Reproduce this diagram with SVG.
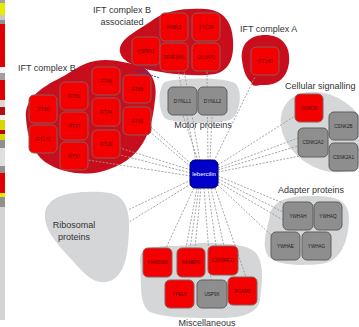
<svg xmlns="http://www.w3.org/2000/svg" width="359" height="327" viewBox="0 0 359 327">
<style>
.bg{fill:#ffffff}
.rblob{fill:#c80d1c}
.gblob{fill:#d5d6d8}
.rn{fill:#f40000;stroke:#8c5a5a;stroke-width:1}
.gn{fill:#8e8e8e;stroke:#5e5e5e;stroke-width:1}
.bn{fill:#0000c8;stroke:#00006a;stroke-width:1}
.rt{font-family:"Liberation Sans",Arial,sans-serif;font-size:4.6px;fill:#6a0000;text-anchor:middle}
.gt{font-family:"Liberation Sans",Arial,sans-serif;font-size:4.6px;fill:#1e1e1e;text-anchor:middle}
.bt{font-family:"Liberation Sans",Arial,sans-serif;font-size:6px;fill:#ffffff;text-anchor:middle}
.lbl{font-family:"Liberation Sans",Arial,sans-serif;font-size:9px;fill:#333333}
.dash{stroke:#9a9a9a;stroke-width:0.9;stroke-dasharray:2 1.5;fill:none}
.blue{stroke:#3a3aa8;stroke-width:0.9;stroke-dasharray:2 1;fill:none}
</style>
<rect class="bg" x="0" y="0" width="359" height="327"/>
<g id="strip">
<rect x="0" y="0" width="5" height="3" fill="#a0a0a0"/>
<rect x="0" y="3" width="5" height="12" fill="#e8e800"/>
<rect x="0" y="15" width="5" height="5" fill="#c8c8c8"/>
<rect x="0" y="20" width="5" height="4" fill="#909090"/>
<rect x="0" y="24" width="5" height="43" fill="#e00000"/>
<rect x="0" y="67" width="5" height="6" fill="#f4f4f4"/>
<rect x="0" y="73" width="5" height="7" fill="#a0a0a0"/>
<rect x="0" y="80" width="5" height="20" fill="#e00000"/>
<rect x="0" y="100" width="5" height="7" fill="#d8d8d8"/>
<rect x="0" y="107" width="5" height="8" fill="#b01010"/>
<rect x="0" y="115" width="5" height="5" fill="#f0f0f0"/>
<rect x="0" y="120" width="5" height="20" fill="#d8d800"/>
<rect x="0" y="130" width="5" height="4" fill="#c00000"/>
<rect x="0" y="140" width="5" height="8" fill="#909090"/>
<rect x="0" y="148" width="5" height="18" fill="#e0e0e0"/>
<rect x="0" y="166" width="5" height="7" fill="#909090"/>
<rect x="0" y="173" width="5" height="20" fill="#e00000"/>
<rect x="0" y="193" width="5" height="4" fill="#e8e800"/>
<rect x="0" y="197" width="5" height="10" fill="#909090"/>
<rect x="0" y="207" width="5" height="113" fill="#d4d4d4"/>
</g>
<g id="blobs">
<path id="blob-iftb" class="rblob" d="M 26,118 C 24,100 40,88 60,78 C 72,72 80,64 95,61 C 110,58 125,62 140,66 C 152,70 158,85 155,100 C 153,118 150,135 138,150 C 128,162 115,168 100,172 C 80,176 60,172 45,162 C 32,152 27,135 26,118 Z"/>
<path id="blob-iftba" class="rblob" d="M 120,52 C 118,40 135,32 150,22 C 165,10 185,8 205,9 C 222,10 232,20 233,40 C 234,58 230,70 215,74 C 195,77 170,74 150,70 C 135,66 122,62 120,52 Z"/>
<path id="blob-ifta" class="rblob" d="M 242,60 C 240,43 251,35 265,35 C 281,35 291,45 289,63 C 287,79 276,86 262,85 C 256,85 253,88 251,82 C 245,77 243,68 242,60 Z"/>
<path id="blob-motor" class="gblob" d="M 165,82 C 175,78 225,76 236,84 C 243,92 240,115 230,120 C 215,124 180,124 166,119 C 158,113 157,88 165,82 Z"/>
<ellipse id="blob-cell" class="gblob" cx="325" cy="132" rx="48" ry="36" transform="rotate(35 325 132)"/>
<path id="blob-adapter" class="gblob" d="M 270,215 C 272,200 290,195 315,196 C 335,196 350,200 349,220 C 348,240 342,262 320,264 C 300,266 270,266 266,252 C 262,240 268,228 270,215 Z"/>
<path id="blob-ribo" class="gblob" d="M 50,203 C 58,192 90,190 110,193 C 125,196 130,210 129,230 C 128,255 125,275 110,281 C 95,286 85,275 72,260 C 58,245 44,230 45,215 C 45,209 47,206 50,203 Z"/>
<path id="blob-misc" class="gblob" d="M 140,262 C 138,250 150,245 175,246 C 190,246 195,242 210,243 C 230,244 245,244 255,252 C 265,262 262,285 260,300 C 258,312 245,318 220,318 C 190,318 165,318 150,312 C 138,305 142,280 140,262 Z"/>
</g>
<g id="connectors">
<line class="dash" x1="196" y1="161" x2="178" y2="70"/>
<line class="dash" x1="200" y1="161" x2="184" y2="70"/>
<line class="dash" x1="208" y1="161" x2="207" y2="70"/>
<line class="dash" x1="214" y1="161" x2="255" y2="77"/>
<line class="dash" x1="198" y1="161" x2="183" y2="115"/>
<line class="dash" x1="210" y1="161" x2="212" y2="115"/>
<line class="dash" x1="191" y1="164" x2="150" y2="126"/>
<line class="dash" x1="191" y1="167" x2="150" y2="132"/>
<line class="dash" x1="191" y1="170" x2="120" y2="148"/>
<line class="dash" x1="191" y1="173" x2="120" y2="155"/>
<line class="dash" x1="191" y1="176" x2="88" y2="160"/>
<line class="dash" x1="191" y1="180" x2="128" y2="210"/>
<line class="dash" x1="191" y1="184" x2="129" y2="222"/>
<line class="dash" x1="218" y1="165" x2="295" y2="116"/>
<line class="dash" x1="218" y1="168" x2="298" y2="138"/>
<line class="dash" x1="218" y1="170" x2="298" y2="146"/>
<line class="dash" x1="218" y1="172" x2="300" y2="156"/>
<line class="dash" x1="218" y1="176" x2="285" y2="204"/>
<line class="dash" x1="218" y1="179" x2="283" y2="212"/>
<line class="dash" x1="218" y1="182" x2="283" y2="220"/>
<line class="dash" x1="218" y1="185" x2="272" y2="236"/>
<line class="dash" x1="194" y1="188" x2="166" y2="248"/>
<line class="dash" x1="197" y1="188" x2="186" y2="248"/>
<line class="dash" x1="199" y1="188" x2="190" y2="248"/>
<line class="dash" x1="201" y1="188" x2="195" y2="248"/>
<line class="dash" x1="204" y1="188" x2="211" y2="280"/>
<line class="dash" x1="208" y1="188" x2="216" y2="246"/>
<line class="dash" x1="211" y1="188" x2="224" y2="246"/>
<line class="dash" x1="215" y1="188" x2="246" y2="277"/>
<line class="blue" x1="120" y1="80" x2="123" y2="82"/>
<line class="blue" x1="88" y1="92" x2="92" y2="88"/>
<line class="blue" x1="120" y1="104" x2="123" y2="100"/>
<line class="blue" x1="88" y1="120" x2="92" y2="118"/>
<line class="blue" x1="57" y1="108" x2="60" y2="104"/>
<line class="blue" x1="57" y1="135" x2="60" y2="138"/>
<line class="blue" x1="88" y1="150" x2="92" y2="146"/>
<line class="blue" x1="140" y1="75" x2="158" y2="62"/>
<line class="blue" x1="134" y1="70" x2="160" y2="78"/>
<line class="blue" x1="148" y1="76" x2="140" y2="62"/>
</g>
<g id="n-ift80"><rect class="rn" x="29" y="95" width="28" height="28" rx="5"/><text class="rt" x="43" y="110.5">IFT80</text></g>
<g id="n-ift172"><rect class="rn" x="29" y="125" width="28" height="28" rx="5"/><text class="rt" x="43" y="140.5">IFT172</text></g>
<g id="n-ift81"><rect class="rn" x="60" y="82" width="28" height="28" rx="5"/><text class="rt" x="74" y="97.5">IFT81</text></g>
<g id="n-ift27"><rect class="rn" x="60" y="112" width="28" height="28" rx="5"/><text class="rt" x="74" y="127.5">IFT27</text></g>
<g id="n-ift57"><rect class="rn" x="60" y="142" width="28" height="28" rx="5"/><text class="rt" x="74" y="157.5">IFT57</text></g>
<g id="n-ift46"><rect class="rn" x="92" y="67" width="28" height="28" rx="5"/><text class="rt" x="106" y="82.5">IFT46</text></g>
<g id="n-ift74"><rect class="rn" x="92" y="98" width="28" height="28" rx="5"/><text class="rt" x="106" y="113.5">IFT74</text></g>
<g id="n-ift20"><rect class="rn" x="92" y="130" width="28" height="28" rx="5"/><text class="rt" x="106" y="145.5">IFT20</text></g>
<g id="n-ift88"><rect class="rn" x="123" y="75" width="28" height="28" rx="5"/><text class="rt" x="137" y="90.5">IFT88</text></g>
<g id="n-ift52"><rect class="rn" x="123" y="107" width="28" height="28" rx="5"/><text class="rt" x="137" y="122.5">IFT52</text></g>
<g id="n-rabl5"><rect class="rn" x="160" y="13" width="28" height="28" rx="5"/><text class="rt" x="174" y="28.5">RABL5</text></g>
<g id="n-ttc26"><rect class="rn" x="192" y="13" width="28" height="28" rx="5"/><text class="rt" x="206" y="28.5">TTC26</text></g>
<g id="n-hspb11"><rect class="rn" x="132" y="37" width="28" height="28" rx="5"/><text class="rt" x="146" y="52.5">HSPB11</text></g>
<g id="n-traf3ip1"><rect class="rn" x="160" y="43" width="28" height="28" rx="5"/><text class="rt" x="174" y="58.5">TRAF3IP1</text></g>
<g id="n-cluap1"><rect class="rn" x="192" y="43" width="28" height="28" rx="5"/><text class="rt" x="206" y="58.5">CLUAP1</text></g>
<g id="n-ift140"><rect class="rn" x="251" y="47" width="28" height="28" rx="5"/><text class="rt" x="265" y="62.5">IFT140</text></g>
<g id="n-dynll1"><rect class="gn" x="168" y="87" width="29" height="28" rx="5"/><text class="gt" x="182.5" y="102.5">DYNLL1</text></g>
<g id="n-dynll2"><rect class="gn" x="198" y="87" width="29" height="28" rx="5"/><text class="gt" x="212.5" y="102.5">DYNLL2</text></g>
<g id="n-lebercilin"><rect class="bn" x="190" y="160" width="28" height="28" rx="5"/><text class="bt" x="204" y="176">lebercilin</text></g>
<g id="n-wdr38"><rect class="rn" x="295" y="94" width="28" height="28" rx="5"/><text class="rt" x="309" y="109.5">WDR38</text></g>
<g id="n-csnk2b"><rect class="gn" x="329" y="112" width="29" height="28" rx="5"/><text class="gt" x="343.5" y="127.5">CSNK2B</text></g>
<g id="n-csnk2a2"><rect class="gn" x="298" y="128" width="30" height="29" rx="5"/><text class="gt" x="313" y="144">CSNK2A2</text></g>
<g id="n-csnk2a1"><rect class="gn" x="329" y="143" width="29" height="28" rx="5"/><text class="gt" x="343.5" y="158.5">CSNK2A1</text></g>
<g id="n-ywhah"><rect class="gn" x="283" y="202" width="30" height="28" rx="5"/><text class="gt" x="298" y="217.5">YWHAH</text></g>
<g id="n-ywhaq"><rect class="gn" x="314" y="202" width="28" height="28" rx="5"/><text class="gt" x="328" y="217.5">YWHAQ</text></g>
<g id="n-ywhae"><rect class="gn" x="271" y="232" width="29" height="28" rx="5"/><text class="gt" x="285.5" y="247.5">YWHAE</text></g>
<g id="n-ywhag"><rect class="gn" x="302" y="232" width="29" height="28" rx="5"/><text class="gt" x="316.5" y="247.5">YWHAG</text></g>
<g id="n-kiaa"><rect class="rn" x="143" y="248" width="29" height="29" rx="5"/><text class="rt" x="157.5" y="264">KIAA0586</text></g>
<g id="n-ranbp9"><rect class="rn" x="177" y="248" width="28" height="29" rx="5"/><text class="rt" x="191" y="264">RANBP9</text></g>
<g id="n-c20orf11"><rect class="rn" x="208" y="246" width="30" height="29" rx="5"/><text class="rt" x="223" y="262">C20ORF11</text></g>
<g id="n-ypel5"><rect class="rn" x="165" y="280" width="29" height="28" rx="5"/><text class="rt" x="179.5" y="295.5">YPEL5</text></g>
<g id="n-usp9x"><rect class="gn" x="197" y="280" width="30" height="28" rx="5"/><text class="gt" x="212" y="295.5">USP9X</text></g>
<g id="n-pgam5"><rect class="rn" x="228" y="277" width="29" height="28" rx="5"/><text class="rt" x="242.5" y="292.5">PGAM5</text></g>
<g id="labels">
<text class="lbl" x="18" y="71">IFT complex B</text>
<text class="lbl" x="122" y="13" text-anchor="middle">IFT complex B</text>
<text class="lbl" x="122" y="25" text-anchor="middle">associated</text>
<text class="lbl" x="240" y="32">IFT complex A</text>
<text class="lbl" x="203" y="128" text-anchor="middle">Motor proteins</text>
<text class="lbl" x="285" y="89">Cellular signalling</text>
<text class="lbl" x="311" y="193" text-anchor="middle">Adapter proteins</text>
<text class="lbl" x="74" y="228" text-anchor="middle">Ribosomal</text>
<text class="lbl" x="74" y="240" text-anchor="middle">proteins</text>
<text class="lbl" x="207" y="326" text-anchor="middle">Miscellaneous</text>
</g>
</svg>
